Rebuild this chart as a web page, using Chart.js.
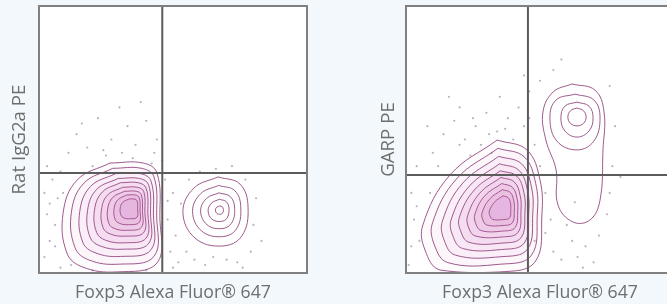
<!DOCTYPE html>
<html>
<head>
<meta charset="utf-8">
<script src="https://cdn.jsdelivr.net/npm/chart.js@4.4.1/dist/chart.umd.min.js"></script>
<style>
  html, body { margin: 0; padding: 0; background: #f2f8fb; overflow: hidden; }
  body { width: 667px; height: 304px; position: relative; }
  .plot { position: absolute; top: 0; height: 304px; }
  #leftWrap { left: 0; width: 320px; }
  #rightWrap { left: 340px; width: 340px; }
</style>
</head>
<body>
<div class="plot" id="leftWrap"><canvas id="iggChart"></canvas></div>
<div class="plot" id="rightWrap"><canvas id="garpChart"></canvas></div>
<script>
// Axis labels
const xAxisLabel = 'Foxp3 Alexa Fluor® 647';
const iggYLabel = 'Rat IgG2a PE';
const garpYLabel = 'GARP PE';

// Quadrant gates [x, y] on a 0-100 display scale
const iggGate = [46, 37.5];
const garpGate = [45.5, 36.7];

// Contour rings, outermost first
const iggMainRings = [
    [[26.5,41.2],[38.8,41.2],[44,37.5],[45.1,21.3],[44,3.7],[29,0.4],[16.4,2.2],[10.4,7.5],[9,22.5],[14.2,34.8]],
    [[27.5,39.2],[38.3,39.2],[42.9,36.0],[43.9,21.7],[42.9,6.2],[29.7,3.3],[18.6,4.9],[13.4,9.6],[12.1,22.8],[16.7,33.6]],
    [[28.5,37.2],[37.9,37.2],[41.8,34.4],[42.7,22.1],[41.8,8.7],[30.4,6.2],[20.9,7.6],[16.3,11.6],[15.2,23.0],[19.2,32.4]],
    [[29.5,35.4],[37.5,35.4],[40.9,33.0],[41.6,22.5],[40.9,11.0],[31.1,8.9],[22.9,10.1],[19.0,13.5],[18.1,23.3],[21.5,31.3]],
    [[30.3,33.8],[37.1,33.8],[40.0,31.7],[40.6,22.8],[40.0,13.1],[31.7,11.3],[24.8,12.3],[21.5,15.2],[20.7,23.5],[23.6,30.3]],
    [[31.2,32.1],[36.7,32.1],[39.1,30.5],[39.5,23.2],[39.1,15.2],[32.3,13.8],[26.6,14.6],[23.9,17.0],[23.3,23.7],[25.6,29.2]],
    [[31.9,30.6],[36.4,30.6],[38.2,29.3],[38.6,23.5],[38.2,17.1],[32.8,16.0],[28.3,16.6],[26.1,18.5],[25.6,23.9],[27.5,28.3]],
    [[32.7,29.2],[36.0,29.2],[37.4,28.2],[37.7,23.8],[37.4,19.0],[33.4,18.1],[30.0,18.6],[28.4,20.1],[28.0,24.1],[29.4,27.4]],
    [[33.5,27.7],[35.7,27.7],[36.6,27.0],[36.8,24.1],[36.6,20.9],[33.9,20.3],[31.7,20.6],[30.6,21.6],[30.3,24.3],[31.3,26.5]]
];

const iggFoxp3Rings = [
    [[66.8,36.0],[75.0,33.3],[78.0,24.7],[75.7,13.9],[68.3,10.1],[58.2,13.1],[53.7,22.8],[57.8,31.8]],
    [[67.0,32.8],[73.1,30.8],[75.3,24.4],[73.6,16.4],[68.1,13.6],[60.6,15.8],[57.3,23.0],[60.3,29.7]],
    [[67.1,30.0],[71.4,28.6],[73.0,24.2],[71.8,18.6],[67.9,16.6],[62.7,18.1],[60.3,23.2],[62.5,27.9]],
    [[67.3,27.6],[69.9,26.7],[70.9,24.0],[70.1,20.5],[67.8,19.3],[64.5,20.2],[63.1,23.3],[64.4,26.2]],
    [[67.4,25.1],[68.4,24.8],[68.8,23.7],[68.5,22.4],[67.6,22.0],[66.4,22.3],[65.8,23.5],[66.3,24.6]]
];

const iggEvents = [
    [14,52],[18,47],[22,58],[27,50],[30,62],[33,55],[36,48],[40,57],[43,45],[25,44],[20,40],[11,45],
    [38,64],[31,45],[16,56],[2,30],[3,22],[4,12],[2,6],[5,35],[6,18],[3,40],[7,28],[8,2],[20,1],[40,1],
    [48,20],[49,8],[50,30],[51,14],[47,35],[52,4],[55,8],[58,5],[62,3],[70,5],[74,4],[79,8],[80,18],
    [81,28],[77,35],[60,38],[66,39],[72,40],[56,35],[83,12],[76,2],[65,6],[53,26],[46,42],[44,50],
    [8,38],[6,10],[12,3],[24,46],[35,43],[42,41],[9,30],[4,26],[48,27],[50,2]
];

const garpMainRings = [
    [[34.0,49.8],[45.1,46.1],[50.0,34.8],[50.7,21.7],[48.1,4.1],[35.1,0.4],[12.7,1.1],[7.1,8.6],[6.3,18.0],[16.4,36.7]],
    [[34.3,46.7],[44.1,43.5],[48.4,33.5],[49.0,22.0],[46.7,6.5],[35.3,3.3],[15.6,3.9],[10.6,10.5],[9.9,18.8],[18.8,35.2]],
    [[34.6,43.7],[43.1,40.9],[46.8,32.3],[47.3,22.3],[45.3,8.9],[35.5,6.1],[18.4,6.7],[14.2,12.4],[13.6,19.5],[21.2,33.7]],
    [[34.9,40.9],[42.1,38.5],[45.3,31.1],[45.8,22.6],[44.1,11.2],[35.6,8.8],[21.1,9.2],[17.4,14.1],[16.9,20.2],[23.5,32.4]],
    [[35.2,38.3],[41.3,36.3],[44.0,30.1],[44.4,22.9],[42.9,13.2],[35.8,11.2],[23.5,11.5],[20.4,15.7],[19.9,20.8],[25.5,31.1]],
    [[35.4,35.8],[40.4,34.1],[42.6,29.0],[42.9,23.1],[41.8,15.2],[35.9,13.5],[25.8,13.9],[23.3,17.2],[23.0,21.5],[27.5,29.9]],
    [[35.7,33.5],[39.7,32.1],[41.4,28.1],[41.7,23.4],[40.7,17.0],[36.1,15.7],[28.0,15.9],[26.0,18.6],[25.7,22.0],[29.3,28.8]],
    [[35.9,31.2],[38.9,30.2],[40.2,27.1],[40.4,23.6],[39.7,18.8],[36.2,17.8],[30.1,18.0],[28.6,20.1],[28.4,22.6],[31.1,27.6]],
    [[36.1,28.9],[38.1,28.2],[39.0,26.2],[39.1,23.8],[38.7,20.7],[36.3,20.0],[32.3,20.1],[31.3,21.5],[31.1,23.2],[33.0,26.5]]
];

const garpDoubleRings = [
    [[61.9,70.8],[70.5,68.5],[73.9,60.3],[73.5,46.1],[72.4,27.3],[68.7,19.9],[62.3,19.1],[56.7,25.5],[56.0,38.6],[52.2,49.8],[51.1,60.3],[54.9,67.8]],
    [[63.1,67.0],[70.1,64.8],[72.4,58.1],[70.1,49.4],[63.8,46.1],[56.3,49.4],[53.7,58.1],[56.0,64.8]],
    [[63.8,64.0],[68.3,62.5],[69.8,58.1],[68.3,53.2],[63.8,50.9],[59.3,53.2],[57.8,58.1],[59.3,62.5]],
    [[63.8,61.8],[66.2,60.8],[67.2,58.4],[66.2,56.0],[63.8,55.1],[61.4,56.0],[60.4,58.4],[61.4,60.8]]
];

const garpEvents = [
    [10,45],[14,52],[18,57],[22,50],[26,55],[30,60],[34,53],[38,58],[42,62],[44,55],[40,50],[28,48],
    [20,62],[35,66],[46,68],[48,48],[12,40],[24,44],[32,45],[8,55],[16,66],[44,74],[2,30],[3,20],[2,10],
    [4,40],[1,3],[50,72],[55,76],[58,80],[76,70],[78,55],[77,40],[76,30],[75,22],[80,36],[52,15],[55,8],
    [58,5],[62,12],[64,6],[67,10],[70,4],[72,14],[60,18],[66,2],[54,20],[63,26.5],[50,40],[52,30],[48,12],
    [25,58],[31,52],[37,54],[9,30],[5,12],[4,25],[20,48],[46,58]
];

function toPoints(list) {
    return list.map(p => ({ x: p[0], y: p[1] }));
}

// One closed line dataset per contour ring; inner rings get a denser tint
function ringDatasets(rings, filled) {
    return rings.map((ring, i) => ({
        data: toPoints(ring.concat([ring[0]])),
        showLine: true,
        pointRadius: 0,
        borderWidth: 1,
        borderColor: 'rgba(140, 62, 120, 0.85)',
        backgroundColor: 'rgba(205, 85, 185, ' + (0.025 + i * 0.008) + ')',
        fill: filled ? 'shape' : false,
        tension: 0.4
    }));
}

function eventDataset(events) {
    return {
        data: toPoints(events),
        pointRadius: 1.1,
        pointBorderWidth: 0,
        pointBackgroundColor: 'rgba(120, 100, 130, 0.5)'
    };
}

// White plot area, frame and quadrant lines
const quadrantPlugin = {
    id: 'quadrants',
    beforeDatasetsDraw(chart) {
        const { ctx, chartArea: a } = chart;
        ctx.save();
        ctx.fillStyle = '#ffffff';
        ctx.fillRect(a.left, a.top, a.right - a.left, a.bottom - a.top);
        ctx.restore();
    },
    afterDatasetsDraw(chart, args, opts) {
        const { ctx, chartArea: a, scales } = chart;
        const gx = scales.x.getPixelForValue(opts.gate[0]);
        const gy = scales.y.getPixelForValue(opts.gate[1]);
        ctx.save();
        ctx.lineWidth = 2;
        ctx.strokeStyle = '#5c5c5c';
        ctx.beginPath();
        ctx.moveTo(gx, a.top);
        ctx.lineTo(gx, a.bottom);
        ctx.moveTo(a.left, gy);
        ctx.lineTo(a.right, gy);
        ctx.stroke();
        ctx.strokeStyle = '#808080';
        ctx.strokeRect(a.left, a.top, a.right - a.left, a.bottom - a.top);
        ctx.restore();
    }
};

function createContourChart(canvasId, yLabel, gate, mainRings, sideRings, events, padding, yTitlePad) {
    const canvas = document.getElementById(canvasId);
    const datasets = []
        .concat([eventDataset(events)])
        .concat(ringDatasets(mainRings, true))
        .concat(ringDatasets(sideRings, false));

    return new Chart(canvas, {
        type: 'scatter',
        data: { datasets: datasets },
        options: {
            responsive: true,
            maintainAspectRatio: false,
            animation: false,
            layout: { padding: padding },
            plugins: {
                legend: { display: false },
                tooltip: { enabled: false },
                quadrants: { gate: gate }
            },
            scales: {
                x: {
                    min: 0,
                    max: 100,
                    grid: { display: false, drawTicks: false },
                    border: { display: false },
                    ticks: { display: false },
                    title: {
                        display: true,
                        text: xAxisLabel,
                        color: '#6e6e6e',
                        font: { family: 'Open Sans', size: 17.7 },
                        padding: { top: 9.76, bottom: 0 }
                    }
                },
                y: {
                    min: 0,
                    max: 100,
                    grid: { display: false, drawTicks: false },
                    border: { display: false },
                    ticks: { display: false },
                    title: {
                        display: true,
                        text: yLabel,
                        color: '#6e6e6e',
                        font: { family: 'Open Sans', size: 18.7 },
                        padding: { top: 0, bottom: yTitlePad }
                    }
                }
            }
        },
        plugins: [quadrantPlugin]
    });
}

createContourChart('iggChart', iggYLabel, iggGate, iggMainRings, iggFoxp3Rings, iggEvents,
    { left: 8.3, right: 13, top: 6, bottom: 0 }, 8.26);
createContourChart('garpChart', garpYLabel, garpGate, garpMainRings, garpDoubleRings, garpEvents,
    { left: 37.3, right: 6, top: 6, bottom: 0 }, 6.26);
</script>
</body>
</html>
